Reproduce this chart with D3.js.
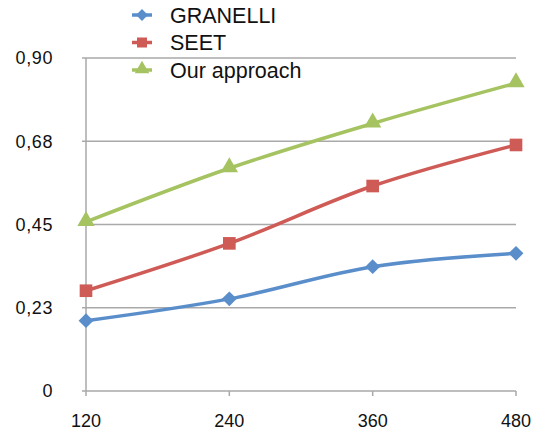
<!DOCTYPE html>
<html>
<head>
<meta charset="utf-8">
<script src="https://cdn.jsdelivr.net/npm/d3@7"></script>
<style>
  html, body { margin: 0; padding: 0; background: #fff; }
  svg { display: block; font-family: "Liberation Sans", Arial, Helvetica, sans-serif; }
</style>
</head>
<body>
<svg id="chart" width="538" height="434"></svg>
<script>
// Data
const xValues = [120, 240, 360, 480];
const xTickLabels = ["120", "240", "360", "480"];
const yTickValues = [0, 0.225, 0.45, 0.675, 0.9];
const yTickLabels = ["0", "0,23", "0,45", "0,68", "0,90"];
const seriesNames = ["GRANELLI", "SEET", "Our approach"];
const granelli = [0.19, 0.249, 0.336, 0.372];
const seet = [0.271, 0.399, 0.554, 0.665];
const ourApproach = [0.457, 0.602, 0.723, 0.832];

const colors = ["#5A8ECB", "#CF5B57", "#A5C360"];

// Square diamond (equal width and height)
const squareDiamond = {
  draw(ctx, size) {
    const r = Math.sqrt(size / 2);
    ctx.moveTo(0, -r); ctx.lineTo(r, 0); ctx.lineTo(0, r); ctx.lineTo(-r, 0); ctx.closePath();
  }
};
const markerTypes = [squareDiamond, d3.symbolSquare, d3.symbolTriangle];

const series = [granelli, seet, ourApproach].map((vals, i) => ({
  name: seriesNames[i],
  color: colors[i],
  symbol: markerTypes[i],
  points: xValues.map((x, j) => ({ x, y: vals[j] }))
}));

const svg = d3.select("#chart");
const plotLeft = 86, plotRight = 516, plotTop = 58, plotBottom = 391;

const x = d3.scaleLinear().domain([120, 480]).range([plotLeft, plotRight]);
const y = d3.scaleLinear().domain([0, 0.9]).range([plotBottom, plotTop]);

const gridColor = "#a9a9a9";

// Horizontal gridlines
svg.append("g").selectAll("line")
  .data(yTickValues)
  .join("line")
  .attr("x1", plotLeft - 4).attr("x2", plotRight)
  .attr("y1", d => y(d)).attr("y2", d => y(d))
  .attr("stroke", gridColor).attr("stroke-width", 1.5);

// Vertical axis line
svg.append("line")
  .attr("x1", plotLeft).attr("x2", plotLeft)
  .attr("y1", plotTop).attr("y2", plotBottom + 5)
  .attr("stroke", gridColor).attr("stroke-width", 1.5);

// X tick marks
svg.append("g").selectAll("line")
  .data(xValues.slice(1))
  .join("line")
  .attr("x1", d => x(d)).attr("x2", d => x(d))
  .attr("y1", plotBottom).attr("y2", plotBottom + 5)
  .attr("stroke", gridColor).attr("stroke-width", 1.5);

// Y tick labels
svg.append("g").selectAll("text")
  .data(yTickValues)
  .join("text")
  .attr("x", 53).attr("y", d => y(d))
  .attr("dy", "0.36em")
  .attr("text-anchor", "end")
  .attr("font-size", 18)
  .attr("letter-spacing", 0.6)
  .attr("fill", "#111")
  .text((d, i) => yTickLabels[i]);

// X tick labels
svg.append("g").selectAll("text")
  .data(xValues)
  .join("text")
  .attr("x", d => x(d)).attr("y", 421)
  .attr("dy", "0.36em")
  .attr("text-anchor", "middle")
  .attr("font-size", 18)
  .attr("fill", "#111")
  .text((d, i) => xTickLabels[i]);

// Smoothed series lines
const line = d3.line()
  .x(d => x(d.x)).y(d => y(d.y))
  .curve(d3.curveCatmullRom.alpha(0.5));

const g = svg.append("g");
series.forEach(s => {
  g.append("path")
    .attr("d", line(s.points))
    .attr("fill", "none")
    .attr("stroke", s.color)
    .attr("stroke-width", 3.5)
    .attr("stroke-linejoin", "round");
});

const markerSize = [110, 160, 130];
series.forEach((s, i) => {
  g.append("g").selectAll("path")
    .data(s.points)
    .join("path")
    .attr("transform", d => `translate(${x(d.x)},${y(d.y) + (i === 2 ? -1 : 0)})`)
    .attr("d", d3.symbol().type(s.symbol).size(markerSize[i]))
    .attr("fill", s.color);
});

// Legend
const legendSize = [70, 100, 90];
const legend = svg.append("g");
series.forEach((s, i) => {
  const ly = 15 + i * 27.5;
  legend.append("line")
    .attr("x1", 132).attr("x2", 152)
    .attr("y1", ly).attr("y2", ly)
    .attr("stroke", s.color).attr("stroke-width", 3.5);
  legend.append("path")
    .attr("transform", `translate(142,${ly + (i === 2 ? -1 : 0)})`)
    .attr("d", d3.symbol().type(s.symbol).size(legendSize[i]))
    .attr("fill", s.color);
  legend.append("text")
    .attr("x", 170).attr("y", ly)
    .attr("dy", "0.36em")
    .attr("font-size", 21.5)
    .attr("fill", "#111")
    .text(s.name);
});
</script>
</body>
</html>
